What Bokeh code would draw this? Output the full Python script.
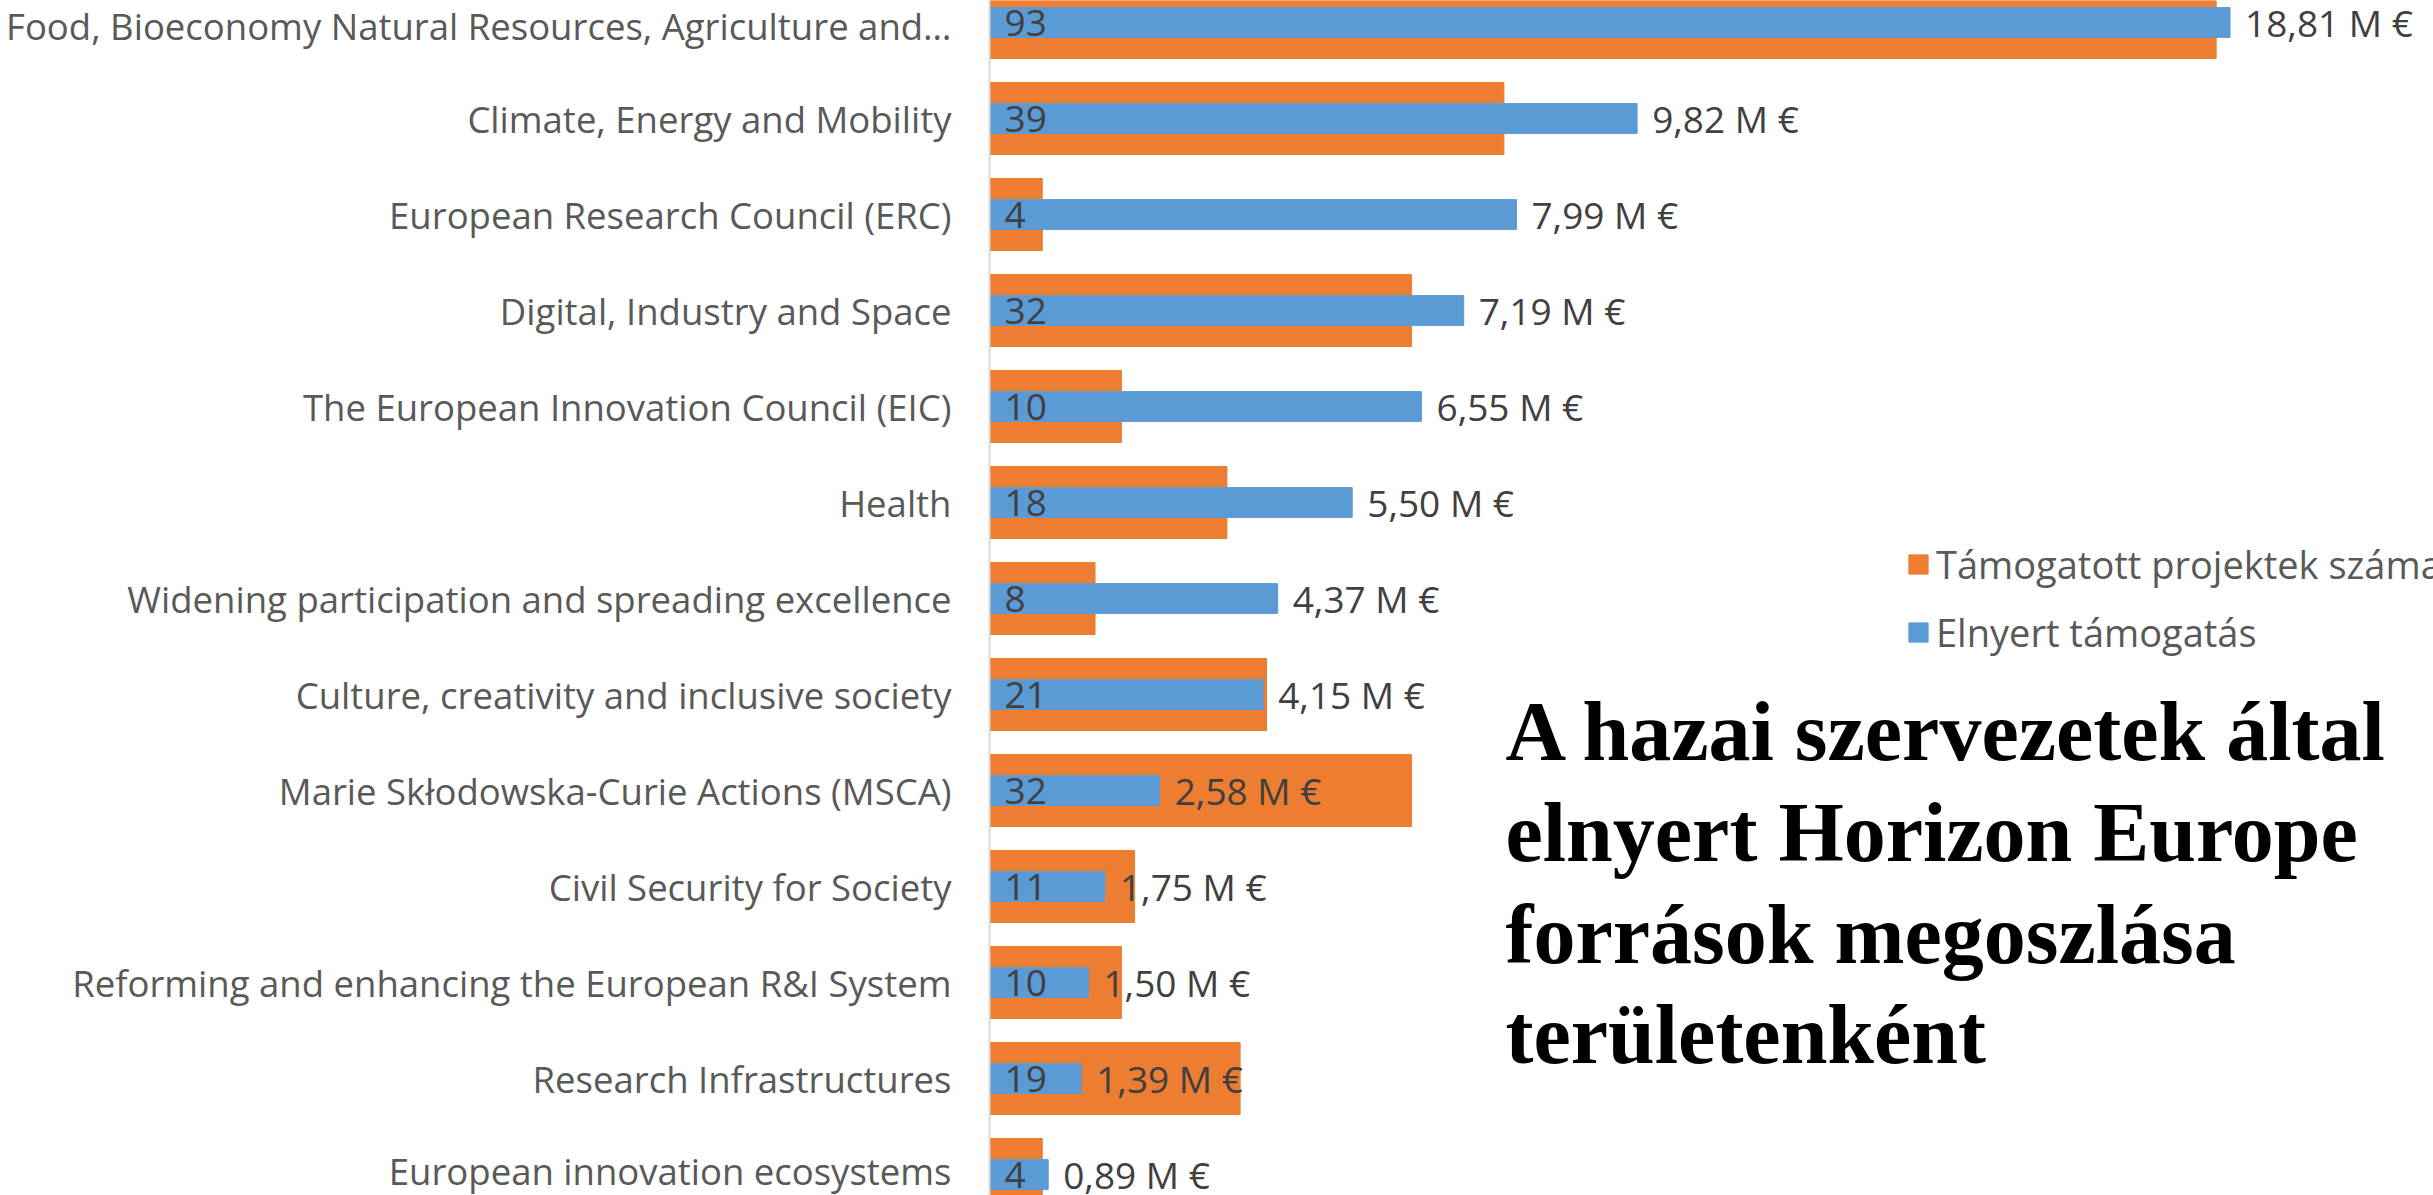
from bokeh.plotting import figure
from bokeh.models import Range1d, FixedTicker, Label, Legend, LegendItem, ColumnDataSource
from bokeh.embed import file_html
from bokeh.resources import INLINE
from bokeh.core.properties import value

categories = [
    "Food, Bioeconomy Natural Resources, Agriculture and\u2026",
    "Climate, Energy and Mobility",
    "European Research Council (ERC)",
    "Digital, Industry and Space",
    "The European Innovation Council (EIC)",
    "Health",
    "Widening participation and spreading excellence",
    "Culture, creativity and inclusive society",
    "Marie Sk\u0142odowska-Curie Actions (MSCA)",
    "Civil Security for Society",
    "Reforming and enhancing the European R&I System",
    "Research Infrastructures",
    "European innovation ecosystems",
]
projects = [93, 39, 4, 32, 10, 18, 8, 21, 32, 11, 10, 19, 4]
funding = [18.81, 9.82, 7.99, 7.19, 6.55, 5.50, 4.37, 4.15, 2.58, 1.75, 1.50, 1.39, 0.89]
legend_labels = ["T\u00e1mogatott projektek sz\u00e1ma", "Elnyert t\u00e1mogat\u00e1s"]
title_lines = [
    "A hazai szervezetek \u00e1ltal",
    "elnyert Horizon Europe",
    "forr\u00e1sok megoszl\u00e1sa",
    "ter\u00fcletenk\u00e9nt",
]
projects_axis_max = 100
funding_axis_max = 20

ORANGE = "#ED7D31"
BLUE = "#5B9BD5"

W, H = 2433, 1195
LEFT = 989
frame_w = W - LEFT
axis_px = 1319.0
row_px = 96.0
first_row_px = 22.0

idx = list(range(len(categories)))
src = ColumnDataSource(dict(
    idx=idx,
    projects=projects,
    funding=funding,
    proj_lbl=[str(v) for v in projects],
    fund_lbl=[f"{v:.2f}".replace(".", ",") + " M \u20ac" for v in funding],
))

p = figure(
    width=W, height=H,
    x_range=Range1d(0, projects_axis_max * frame_w / axis_px),
    y_range=Range1d((H - first_row_px) / row_px, -first_row_px / row_px),
    x_axis_location=None,
    toolbar_location=None, output_backend="svg",
    min_border_left=LEFT, min_border_right=0, min_border_top=0, min_border_bottom=0,
)
p.extra_x_ranges = {"funding": Range1d(0, funding_axis_max * frame_w / axis_px)}
p.outline_line_color = None
p.xgrid.visible = False
p.ygrid.visible = False
p.background_fill_color = "white"
p.border_fill_color = "white"

ax = p.yaxis[0]
ax.ticker = FixedTicker(ticks=idx)
ax.major_label_overrides = {i: c for i, c in zip(idx, categories)}
ax.axis_line_color = "#d9d9d9"
ax.axis_line_width = 2
ax.major_tick_line_color = None
ax.minor_tick_line_color = None
ax.major_tick_out = 0
ax.major_tick_in = 0
ax.major_label_standoff = 38
ax.major_label_text_font = "Open Sans"
ax.major_label_text_font_size = "36.5px"
ax.major_label_text_color = "#595959"

r_proj = p.hbar(y="idx", left=0, right="projects", height=0.75, color=ORANGE, source=src)
r_fund = p.hbar(y="idx", left=0, right="funding", height=0.31, color=BLUE, source=src,
                x_range_name="funding")

p.text(x=0, y="idx", text="proj_lbl", x_offset=15, text_baseline="middle", text_align="left",
       text_font=value("Open Sans"), text_font_size="37px", text_color="#404040", source=src)
p.text(x="funding", y="idx", text="fund_lbl", x_offset=15, text_baseline="middle", text_align="left",
       text_font=value("Open Sans"), text_font_size="37px", text_color="#404040", source=src,
       x_range_name="funding")

legend = Legend(
    items=[LegendItem(label=legend_labels[0], renderers=[r_proj]),
           LegendItem(label=legend_labels[1], renderers=[r_fund])],
    location=(917, 529),
    orientation="vertical",
    glyph_width=24, glyph_height=24, label_height=68, spacing=0,
    label_standoff=6, padding=0, margin=0,
    border_line_color=None, background_fill_alpha=0,
    label_text_font="Open Sans", label_text_font_size="38px", label_text_color="#595959",
)
p.add_layout(legend, "center")

title_y = [464, 363, 261, 161]
for line, ty in zip(title_lines, title_y):
    p.add_layout(Label(x=516, y=ty, x_units="screen", y_units="screen", text=line,
                       text_font="Liberation Serif", text_font_style="bold",
                       text_font_size="84px", text_color="black",
                       text_baseline="alphabetic", text_align="left"))

open("out.html", "w").write(file_html(p, INLINE))
